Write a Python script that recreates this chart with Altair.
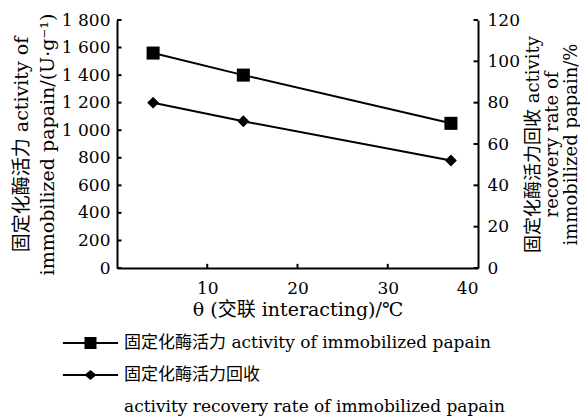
import altair as alt
import pandas as pd

# ---- data ----
temps = [4, 14, 37]                      # θ (交联 interacting)/℃
activity = [1560, 1400, 1050]            # 固定化酶活力 / (U·g⁻¹)
recovery = [80, 71, 52]                  # 固定化酶活力回收 / %

x_domain = [0, 40]
x_tick_values = [10, 20, 30, 40]
left_domain = [0, 1800]
left_tick_values = [0, 200, 400, 600, 800, 1000, 1200, 1400, 1600, 1800]
right_domain = [0, 120]
right_tick_values = [0, 20, 40, 60, 80, 100, 120]

legend_labels = [
    "固定化酶活力 activity of immobilized papain",
    "固定化酶活力回收",
    "activity recovery rate of immobilized papain",
]

left_title = ["固定化酶活力 activity of", "immobilized papain/(U·g⁻¹)"]
right_title = ["固定化酶活力回收 activity", "recovery rate of", "immobilized papain/%"]
x_title = "θ (交联 interacting)/℃"

FONT = "DejaVu Serif, Noto Sans CJK SC"
W, H = 361, 248

# ---- tables built from the arrays ----
act_df = pd.DataFrame({"x": temps, "y": activity})
rec_df = pd.DataFrame({"x": temps, "y": recovery})
legend_df = pd.DataFrame({"x": [x_domain[0]] * 3, "y": [left_domain[0]] * 3, "series": legend_labels})

# inward tick marks (short rules along the axes)
lt_df = pd.DataFrame({"y": left_tick_values, "x": x_domain[0], "x2": x_domain[0] + 0.5})
rt_df = pd.DataFrame({"y": right_tick_values, "x": x_domain[1], "x2": x_domain[1] - 0.5})
xt_df = pd.DataFrame({"x": x_tick_values[:-1], "y": left_domain[0], "y2": left_domain[0] + 30})

xscale = alt.Scale(domain=x_domain, nice=False, zero=False)
xaxis = alt.Axis(
    values=x_tick_values, ticks=False, grid=False,
    domainColor="black", domainWidth=2,
    labelFont=FONT, labelFontSize=17, labelColor="black", labelPadding=12,
    title=x_title, titleFont=FONT, titleFontSize=19, titleFontWeight="normal",
    titleColor="black", titleBaseline="alphabetic", titleY=47,
)
X = alt.X("x:Q", scale=xscale, axis=xaxis)

yl_scale = alt.Scale(domain=left_domain, nice=False)
yl_axis = alt.Axis(
    orient="left", values=left_tick_values, ticks=False, grid=False,
    labelExpr="replace(format(datum.value, ','), ',', ' ')",
    domainColor="black", domainWidth=2,
    labelFont=FONT, labelFontSize=17, labelColor="black", labelPadding=7,
    title=left_title, titleFont=FONT, titleFontSize=19, titleFontWeight="normal",
    titleColor="black", titleAngle=270, titleAlign="center", titleBaseline="alphabetic",
    titleX=-90, titleY=H / 2, titleLineHeight=26,
)
YL = alt.Y("y:Q", scale=yl_scale, axis=yl_axis)

yr_scale = alt.Scale(domain=right_domain, nice=False)
yr_axis = alt.Axis(
    orient="right", values=right_tick_values, ticks=False, grid=False,
    domainColor="black", domainWidth=2,
    labelFont=FONT, labelFontSize=17, labelColor="black", labelPadding=9,
    title=right_title, titleFont=FONT, titleFontSize=18, titleFontWeight="normal",
    titleColor="black", titleAngle=270, titleAlign="center", titleBaseline="alphabetic",
    titleX=60, titleY=H / 2, titleLineHeight=19,
)
YR = alt.Y("y:Q", scale=yr_scale, axis=yr_axis)

# legend glyphs: a short bar (the line) plus the marker, all filled
sq_path = "M-2.3,-0.08H2.3V0.08H-2.3ZM-0.5,-0.5H0.5V0.5H-0.5Z"
di_path = "M-2.3,-0.08H2.3V0.08H-2.3ZM-0.5,0L0,-0.42L0.5,0L0,0.42Z"
empty_path = "M0,0Z"

# ---- group A : activity on the left axis ----
act_line = alt.Chart(act_df).mark_line(color="black", strokeWidth=2).encode(x=X, y=YL)
act_pts = alt.Chart(act_df).mark_point(
    shape="square", filled=True, color="black", size=170, opacity=1
).encode(x=X, y=YL)
lt_rules = alt.Chart(lt_df).mark_rule(color="black", strokeWidth=2).encode(
    x=X, x2="x2:Q", y=YL
)
xt_rules = alt.Chart(xt_df).mark_rule(color="black", strokeWidth=2).encode(
    x=X, y=YL, y2="y2:Q"
)
legend_layer = alt.Chart(legend_df).transform_filter("false").mark_point(
    filled=True, color="black", opacity=1
).encode(
    x=X, y=YL,
    shape=alt.Shape(
        "series:N",
        scale=alt.Scale(domain=legend_labels, range=[sq_path, di_path, empty_path]),
        legend=alt.Legend(
            title=None, orient="none", legendX=-38.5, legendY=311,
            direction="vertical", padding=0,
            symbolSize=576, symbolStrokeWidth=0,
            symbolFillColor="black", symbolOpacity=1,
            labelFont=FONT, labelFontSize=17, labelColor="black",
            labelOffset=21.5, labelLimit=600, rowPadding=12,
        ),
    ),
)
group_a = alt.layer(act_line, act_pts, lt_rules, xt_rules, legend_layer)

# ---- group B : recovery rate on the right axis ----
rec_line = alt.Chart(rec_df).mark_line(color="black", strokeWidth=2).encode(x=X, y=YR)
rec_pts = alt.Chart(rec_df).mark_point(
    shape="diamond", filled=True, color="black", size=140, opacity=1
).encode(x=X, y=YR)
rt_rules = alt.Chart(rt_df).mark_rule(color="black", strokeWidth=2).encode(
    x=X, x2="x2:Q", y=YR
)
group_b = alt.layer(rec_line, rec_pts, rt_rules)

chart = (
    alt.layer(group_a, group_b)
    .resolve_scale(y="independent")
    .properties(
        width=W, height=H,
        autosize=alt.AutoSizeParams(type="none"),
        padding={"left": 109, "top": 12, "right": 102, "bottom": 152},
        background="white",
    )
    .configure_view(stroke=None)
)

chart.save("out.html", embed_options={"renderer": "svg", "actions": False})
